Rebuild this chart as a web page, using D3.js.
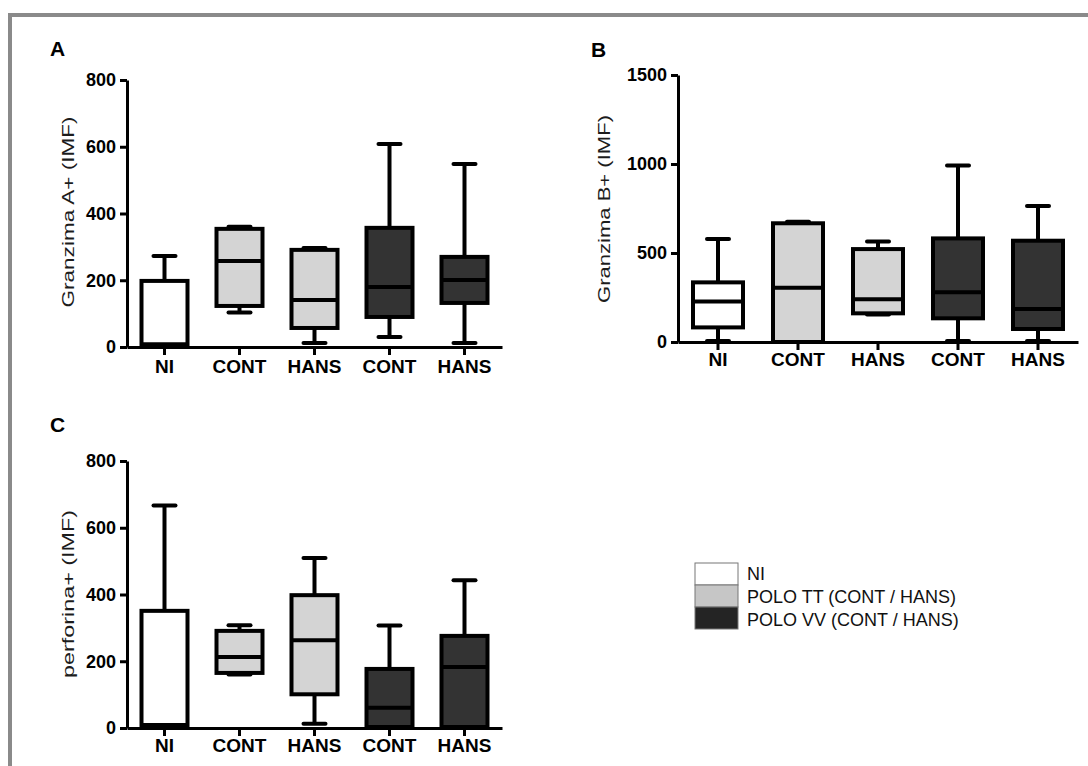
<!DOCTYPE html>
<html>
<head>
<meta charset="utf-8">
<script src="https://cdn.jsdelivr.net/npm/d3@7"></script>
<style>
  body { margin: 0; background: #fff; }
  svg { display: block; font-family: "Liberation Sans", Arial, sans-serif; }
</style>
</head>
<body>
<div id="main"></div>
<script>
// categorias do eixo x e o grupo (cor) de cada caixa
const categorias = ["NI", "CONT", "HANS", "CONT", "HANS"];
const grupos = ["ni", "tt", "tt", "vv", "vv"];

// [min, q1, mediana, q3, max]
const granzimaA = [[0, 3, 8, 198, 273], [103, 123, 258, 354, 360], [12, 57, 141, 291, 297], [30, 90, 180, 357, 608], [12, 132, 201, 270, 548]];
const granzimaB = [[5, 82, 227, 335, 579], [0, 0, 305, 667, 676], [155, 161, 240, 522, 564], [5, 133, 279, 582, 991], [5, 73, 185, 569, 764]];
const perforina = [[0, 3, 9, 351, 667], [160, 165, 213, 291, 308], [13, 101, 263, 398, 509], [0, 3, 61, 177, 307], [0, 3, 183, 276, 443]];

const ticksA = [0, 200, 400, 600, 800];
const ticksB = [0, 500, 1000, 1500];

const legendaTextos = ["NI", "POLO TT (CONT / HANS)", "POLO VV (CONT / HANS)"];

const cores = { ni: "#ffffff", tt: "#d4d4d4", vv: "#333333" };
const coresLegenda = ["#ffffff", "#c6c6c6", "#242424"];

const fonte = '"Liberation Sans", Arial, sans-serif';

const svg = d3.select("#main").append("svg")
  .attr("width", 1088).attr("height", 766);

// moldura cinza
svg.append("rect")
  .attr("x", 10).attr("y", 15).attr("width", 1100).attr("height", 800)
  .attr("fill", "none").attr("stroke", "#8a8a8a").attr("stroke-width", 4);

class BoxPlot {
  constructor(config) {
    this.config = config;
    this.g = svg.append("g");
    this.createScales();
    this.createAxis();
    this.renderBoxes();
  }

  createScales() {
    const c = this.config;
    this.x = d3.scaleBand().domain(d3.range(categorias.length)).range([c.x0, c.x1]);
    this.y = d3.scaleLinear().domain([0, c.max]).range([c.y0, c.y1]);
  }

  createAxis() {
    const c = this.config;
    const yAxis = d3.axisLeft(this.y).tickValues(c.ticks).tickFormat(d3.format("d"))
      .tickSize(7).tickPadding(4).tickSizeOuter(0);
    const xAxis = d3.axisBottom(this.x).tickFormat(i => categorias[i]).tickSize(8).tickPadding(c.xPad).tickSizeOuter(0);

    this.g.append("g")
      .attr("transform", `translate(${c.x0},0)`)
      .call(yAxis)
      .attr("font-family", fonte)
      .call(g => g.selectAll("path, line").attr("stroke", "#000").attr("stroke-width", 3))
      .call(g => g.selectAll("text").attr("fill", "#000").attr("font-size", 18).attr("font-weight", "bold"));

    this.g.append("g")
      .attr("transform", `translate(0,${c.y0})`)
      .call(xAxis)
      .attr("font-family", fonte)
      .call(g => g.selectAll("path, line").attr("stroke", "#000").attr("stroke-width", 3))
      .call(g => g.selectAll("text").attr("fill", "#000").attr("font-size", 19).attr("font-weight", "bold"));

    this.g.append("text")
      .attr("transform", `translate(${c.labelX},${c.labelY}) rotate(-90)`)
      .attr("text-anchor", "middle")
      .attr("font-size", 17)
      .attr("fill", "#1c1c1c")
      .attr("textLength", c.labelLen)
      .attr("lengthAdjust", "spacingAndGlyphs")
      .text(c.label);

    this.g.append("text")
      .attr("x", c.letraX).attr("y", c.letraY)
      .attr("font-size", 21).attr("font-weight", "bold")
      .text(c.letra);
  }

  renderBoxes() {
    const c = this.config;
    const cx = i => this.x(i) + this.x.bandwidth() / 2;
    const bw = c.boxW;
    const cap = 11;
    const caixas = this.g.selectAll(".caixa")
      .data(c.dados)
      .join("g")
      .attr("class", "caixa");

    caixas.append("line")
      .attr("x1", (d, i) => cx(i)).attr("x2", (d, i) => cx(i))
      .attr("y1", d => this.y(d[4])).attr("y2", d => this.y(d[0]))
      .attr("stroke", "#000").attr("stroke-width", 4);

    caixas.selectAll(".cap")
      .data((d, i) => [[d[0], i], [d[4], i]])
      .join("line")
      .attr("x1", d => cx(d[1]) - cap).attr("x2", d => cx(d[1]) + cap)
      .attr("y1", d => this.y(d[0])).attr("y2", d => this.y(d[0]))
      .attr("stroke", "#000").attr("stroke-width", 4).attr("stroke-linecap", "round");

    caixas.append("rect")
      .attr("x", (d, i) => cx(i) - bw / 2)
      .attr("width", bw)
      .attr("y", d => this.y(d[3]))
      .attr("height", d => this.y(d[1]) - this.y(d[3]))
      .attr("fill", (d, i) => cores[grupos[i]])
      .attr("stroke", "#000").attr("stroke-width", 4);

    caixas.append("line")
      .attr("x1", (d, i) => cx(i) - bw / 2).attr("x2", (d, i) => cx(i) + bw / 2)
      .attr("y1", d => this.y(d[2])).attr("y2", d => this.y(d[2]))
      .attr("stroke", "#000").attr("stroke-width", 4);
  }
}

new BoxPlot({ dados: granzimaA, max: 800, ticks: ticksA, x0: 127, x1: 502, y0: 347, y1: 80, boxW: 46, xPad: 5,
  label: "Granzima A+ (IMF)", labelX: 74, labelY: 212, labelLen: 191, letra: "A", letraX: 50, letraY: 56 });
new BoxPlot({ dados: granzimaB, max: 1500, ticks: ticksB, x0: 678, x1: 1078, y0: 342, y1: 75, boxW: 50, xPad: 3,
  label: "Granzima B+ (IMF)", labelX: 610, labelY: 209, labelLen: 188, letra: "B", letraX: 591, letraY: 57 });
new BoxPlot({ dados: perforina, max: 800, ticks: ticksA, x0: 127, x1: 502, y0: 728, y1: 461, boxW: 46, xPad: 3,
  label: "perforina+ (IMF)", labelX: 74, labelY: 594, labelLen: 168, letra: "C", letraX: 50, letraY: 432 });

// legenda
const leg = svg.append("g");
leg.selectAll("rect")
  .data(legendaTextos)
  .join("rect")
  .attr("x", 695).attr("y", (d, i) => 563 + i * 22)
  .attr("width", 43).attr("height", 22)
  .attr("fill", (d, i) => coresLegenda[i])
  .attr("stroke", "#777").attr("stroke-width", 1);
leg.selectAll("text")
  .data(legendaTextos)
  .join("text")
  .attr("x", 747).attr("y", (d, i) => 580 + i * 23)
  .attr("font-size", 18)
  .attr("fill", "#111")
  .text(d => d);
</script>
</body>
</html>
